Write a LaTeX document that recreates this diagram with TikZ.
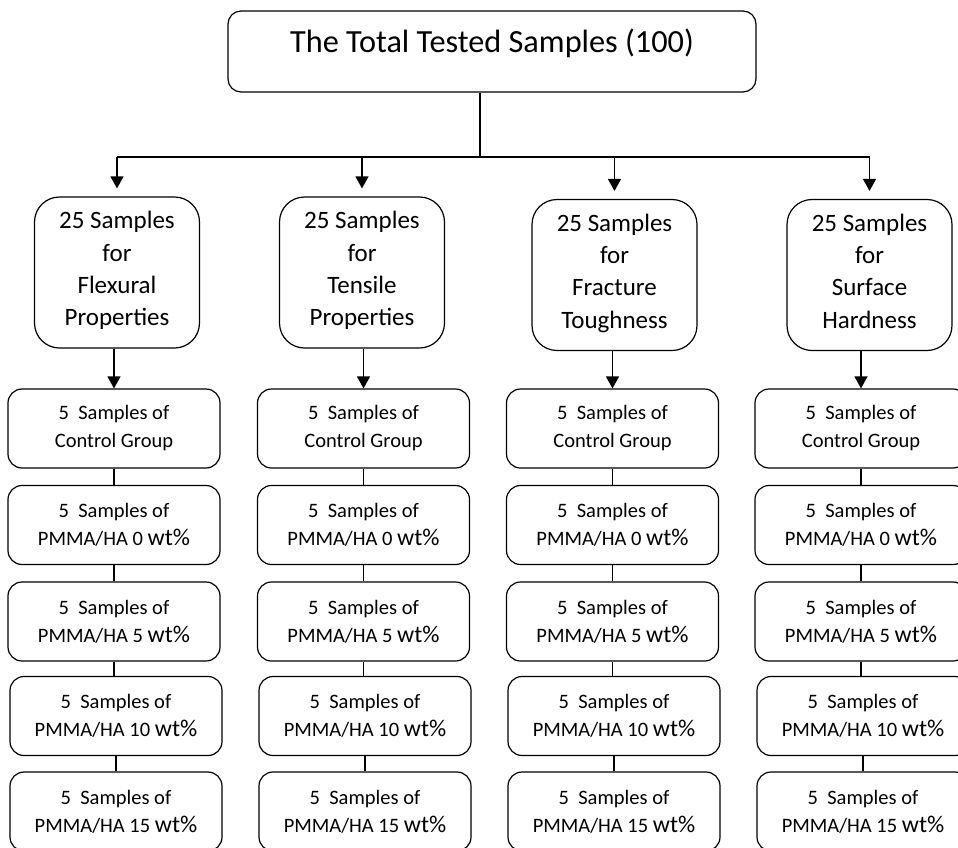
\documentclass[tikz,border=0pt]{standalone}
\usepackage{fontspec}
\setmainfont{Carlito}
\usetikzlibrary{arrows.meta}
\newcommand{\wtp}{{\fontsize{24pt}{24pt}\selectfont wt\%}}

\begin{document}
\begin{tikzpicture}[x=1pt, y=-1pt, line width=1.2pt,
  topbox/.style={draw, rounded corners=13pt, minimum width=528pt, minimum height=81pt, inner sep=0pt, font=\fontsize{32.3pt}{38pt}\selectfont, text height=24pt, text depth=22pt},
  catbox/.style={draw, rounded corners=25pt, minimum width=165pt, minimum height=151pt, inner sep=0pt, align=center, font=\fontsize{25pt}{32.3pt}\selectfont, text depth=8pt},
  subbox/.style={draw, rounded corners=14pt, minimum width=212pt, minimum height=79pt, inner sep=0pt, align=center, font=\fontsize{20.5pt}{28pt}\selectfont},
  arr/.style={-{Triangle[width=13pt,length=12pt]}, line width=1.4pt}]
\useasboundingbox (0,0) rectangle (958,847);
\node[topbox] (tot) at (492,51.5){The Total Tested Samples (100)};
\coordinate (split) at (480,157);
% the four test groups
\node[catbox] (cat1) at (117,272.5){25 Samples\\for\\Flexural\\Properties};
\node[catbox] (cat2) at (362,272.5){25 Samples\\for\\Tensile\\Properties};
\node[catbox] (cat3) at (614.5,275){25 Samples\\for\\Fracture\\Toughness};
\node[catbox] (cat4) at (869.5,275){25 Samples\\for\\Surface\\Hardness};
\draw[](tot.south -| split) -- (split);
\draw[](cat1 |- split) -- (cat4 |- split);
\draw[arr, shorten >=8pt](cat1 |- split) -- (cat1);
\draw[arr, shorten >=8pt](cat2 |- split) -- (cat2);
\draw[arr, shorten >=8pt](cat3 |- split) -- (cat3);
\draw[arr, shorten >=8pt](cat4 |- split) -- (cat4);
% flexural
\node[subbox] (sub11) at (114,428.5){5\ \ Samples of\\Control Group};
\node[subbox] (sub12) at (114,525){5\ \ Samples of\\PMMA/HA 0 \wtp};
\node[subbox] (sub13) at (114,621.5){5\ \ Samples of\\PMMA/HA 5 \wtp};
\node[subbox] (sub14) at (116,716){5\ \ Samples of\\PMMA/HA 10 \wtp};
\node[subbox] (sub15) at (116,811.5){5\ \ Samples of\\PMMA/HA 15 \wtp};
\draw[arr](cat1.south -| sub11.north) -- (sub11.north);
\draw[](sub11.south) -- (sub12.north);
\draw[](sub12.south) -- (sub13.north);
\draw[](sub13.south) -- (sub13.south |- sub14.north);
\draw[](sub14.south) -- (sub15.north);
% tensile
\node[subbox] (sub21) at (363.5,428.5){5\ \ Samples of\\Control Group};
\node[subbox] (sub22) at (363.5,525){5\ \ Samples of\\PMMA/HA 0 \wtp};
\node[subbox] (sub23) at (363.5,621.5){5\ \ Samples of\\PMMA/HA 5 \wtp};
\node[subbox] (sub24) at (365,716){5\ \ Samples of\\PMMA/HA 10 \wtp};
\node[subbox] (sub25) at (365,811.5){5\ \ Samples of\\PMMA/HA 15 \wtp};
\draw[arr](cat2.south -| sub21.north) -- (sub21.north);
\draw[](sub21.south) -- (sub22.north);
\draw[](sub22.south) -- (sub23.north);
\draw[](sub23.south) -- (sub23.south |- sub24.north);
\draw[](sub24.south) -- (sub25.north);
% fracture
\node[subbox] (sub31) at (612.5,428.5){5\ \ Samples of\\Control Group};
\node[subbox] (sub32) at (612.5,525){5\ \ Samples of\\PMMA/HA 0 \wtp};
\node[subbox] (sub33) at (612.5,621.5){5\ \ Samples of\\PMMA/HA 5 \wtp};
\node[subbox] (sub34) at (614,716){5\ \ Samples of\\PMMA/HA 10 \wtp};
\node[subbox] (sub35) at (614,811.5){5\ \ Samples of\\PMMA/HA 15 \wtp};
\draw[arr](cat3.south -| sub31.north) -- (sub31.north);
\draw[](sub31.south) -- (sub32.north);
\draw[](sub32.south) -- (sub33.north);
\draw[](sub33.south) -- (sub33.south |- sub34.north);
\draw[](sub34.south) -- (sub35.north);
% hardness
\node[subbox] (sub41) at (861,428.5){5\ \ Samples of\\Control Group};
\node[subbox] (sub42) at (861,525){5\ \ Samples of\\PMMA/HA 0 \wtp};
\node[subbox] (sub43) at (861,621.5){5\ \ Samples of\\PMMA/HA 5 \wtp};
\node[subbox] (sub44) at (863,716){5\ \ Samples of\\PMMA/HA 10 \wtp};
\node[subbox] (sub45) at (863,811.5){5\ \ Samples of\\PMMA/HA 15 \wtp};
\draw[arr](cat4.south -| sub41.north) -- (sub41.north);
\draw[](sub41.south) -- (sub42.north);
\draw[](sub42.south) -- (sub43.north);
\draw[](sub43.south) -- (sub43.south |- sub44.north);
\draw[](sub44.south) -- (sub45.north);
\end{tikzpicture}
\end{document}
